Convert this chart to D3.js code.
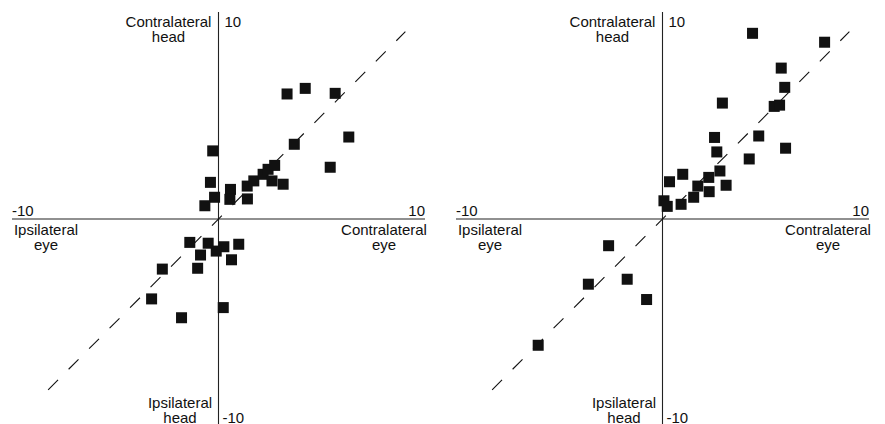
<!DOCTYPE html>
<html>
<head>
<meta charset="utf-8">
<script src="https://cdn.jsdelivr.net/npm/d3@7/dist/d3.min.js"></script>
<style>
  html, body { margin: 0; padding: 0; background: #fff; }
  svg { display: block; }
  text { font-family: "Liberation Sans", Arial, Helvetica, sans-serif; font-size: 15px; fill: #111; }
</style>
</head>
<body>
<svg id="chart" width="885" height="424"></svg>
<script>
// Axis extent and tick labels
const axisDomain = [-10, 10];
const tickLabels = ["-10", "10"];

// Quadrant labels (two lines each)
const xNegLabel = ["Ipsilateral", "eye"];
const xPosLabel = ["Contralateral", "eye"];
const yPosLabel = ["Contralateral", "head"];
const yNegLabel = ["Ipsilateral", "head"];

// Unity line span (y = x)
const unitySpan = [-8.25, 9.05];

// Left panel: eye (x) vs head (y)
const leftX = [3.32, 4.20, 5.65, 6.31, 3.67, 5.41, -0.28, -0.39, -0.19, -0.66,
               0.58, 0.55, 1.39, 1.40, 1.71, 2.16, 2.40, 2.72, 2.59, 3.13,
               -1.39, -0.50, 0.26, 0.98, -0.11, -0.87, 0.63, -2.72, -1.01, -3.24,
               -1.79, 0.23];
const leftY = [6.04, 6.31, 6.07, 3.96, 3.61, 2.50, 3.29, 1.77, 1.05, 0.64,
               1.43, 0.95, 1.59, 0.97, 1.84, 2.16, 2.40, 2.59, 1.84, 1.68,
               -1.13, -1.17, -1.34, -1.22, -1.55, -1.74, -1.97, -2.42, -2.38, -3.86,
               -4.77, -4.28];

// Right panel: eye (x) vs head (y)
const rightX = [4.36, 7.85, 5.75, 5.92, 2.90, 5.41, 5.67, 2.52, 4.66, 5.96,
                2.63, 4.20, 0.98, 0.34, 2.78, 2.24, 1.71, 3.08, 2.26, 1.51,
                0.07, 0.23, 0.90,
                -2.61, -1.71, -3.59, -0.77, -6.02];
const rightY = [8.97, 8.54, 7.29, 6.36, 5.60, 5.44, 5.50, 3.94, 4.01, 3.42,
                3.24, 2.90, 2.16, 1.80, 2.32, 2.01, 1.59, 1.63, 1.32, 1.05,
                0.88, 0.61, 0.71,
                -1.29, -2.91, -3.15, -3.89, -6.10];

const svg = d3.select("#chart");
const lineH = 15;
const sq = 11;

function drawPanel(xs, ys, xRange) {
  const x = d3.scaleLinear().domain(axisDomain).range(xRange);
  const y = d3.scaleLinear().domain(axisDomain).range([426, 12]);
  const g = svg.append("g");
  const x0 = x(0), y0 = y(0);

  // axes through the origin
  g.append("line")
    .attr("x1", x(axisDomain[0])).attr("x2", x(axisDomain[1]))
    .attr("y1", y0).attr("y2", y0)
    .attr("stroke", "#222").attr("stroke-width", 1.1);
  g.append("line")
    .attr("x1", x0).attr("x2", x0)
    .attr("y1", y(axisDomain[1])).attr("y2", y(axisDomain[0]))
    .attr("stroke", "#222").attr("stroke-width", 1.1);

  // dashed unity line
  g.append("line")
    .attr("x1", x(unitySpan[0])).attr("y1", y(unitySpan[0]))
    .attr("x2", x(unitySpan[1])).attr("y2", y(unitySpan[1]))
    .attr("stroke", "#111").attr("stroke-width", 1.1)
    .attr("stroke-dasharray", "14,15");

  // data squares
  g.selectAll("rect.pt")
    .data(d3.range(xs.length))
    .join("rect")
    .attr("class", "pt")
    .attr("x", i => x(xs[i]) - sq / 2)
    .attr("y", i => y(ys[i]) - sq / 2)
    .attr("width", sq).attr("height", sq)
    .attr("fill", "#111");

  // tick labels at axis ends
  g.append("text").attr("x", x(axisDomain[0])).attr("y", y0 - 3.5)
    .attr("text-anchor", "start").text(tickLabels[0]);
  g.append("text").attr("x", x(axisDomain[1])).attr("y", y0 - 3.5)
    .attr("text-anchor", "end").text(tickLabels[1]);
  g.append("text").attr("x", x0 + 6).attr("y", 27)
    .attr("text-anchor", "start").text(tickLabels[1]);
  g.append("text").attr("x", x0 + 4).attr("y", 423)
    .attr("text-anchor", "start").text(tickLabels[0]);

  // two-line quadrant labels
  function label(lines, cx, baseY) {
    const t = g.append("text").attr("text-anchor", "middle");
    lines.forEach((s, k) => {
      t.append("tspan").attr("x", cx).attr("y", baseY + k * lineH).text(s);
    });
  }
  label(xNegLabel, x(axisDomain[0]) + 34, y0 + 16);
  label(xPosLabel, x(axisDomain[1]) - 41, y0 + 16);
  label(yPosLabel, x0 - 50, 27);
  label(yNegLabel, x0 - 38.5, 408);
}

drawPanel(leftX, leftY, [12, 425]);
drawPanel(rightX, rightY, [456, 869]);
</script>
</body>
</html>
